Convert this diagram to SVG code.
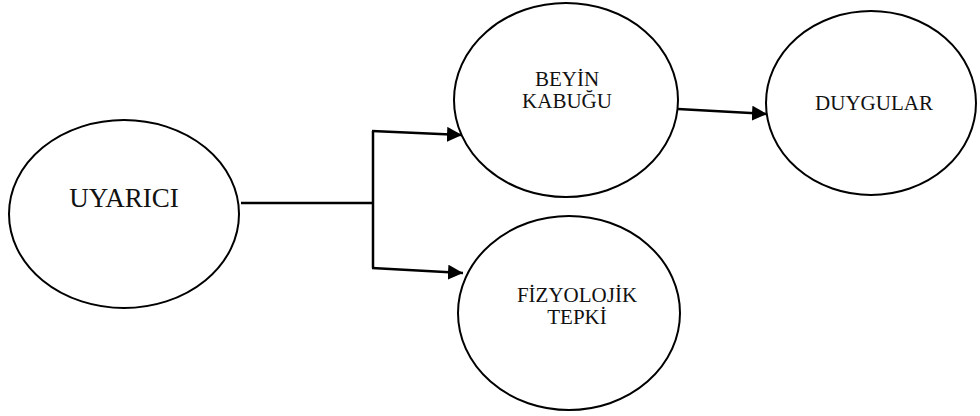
<svg xmlns="http://www.w3.org/2000/svg" width="980" height="416" viewBox="0 0 980 416">
<defs>
<style>
.node ellipse{fill:#fff;stroke:#000;stroke-width:2}
.node text{font-family:"Liberation Serif","Times New Roman",serif;fill:#111;text-anchor:middle}
.conn{fill:none;stroke:#000;stroke-width:2.5}
</style>
<marker id="arr" viewBox="0 0 15 15" refX="15" refY="7.5" markerWidth="15" markerHeight="15" markerUnits="userSpaceOnUse" orient="auto">
<path d="M0,0 L15,7.5 L0,15 Z" fill="#000"/>
</marker>
</defs>
<rect width="980" height="416" fill="#fff"/>
<g id="connectors">
<line class="conn" x1="241" y1="203" x2="373" y2="203" stroke-width="2"/>
<polyline class="conn" points="373,131 373,268"/>
<line class="conn" x1="372" y1="131" x2="462" y2="135" marker-end="url(#arr)"/>
<line class="conn" x1="372" y1="268" x2="463" y2="273" marker-end="url(#arr)"/>
<line class="conn" x1="678" y1="109" x2="767" y2="114" marker-end="url(#arr)"/>
</g>
<g id="uyarici" class="node">
<ellipse cx="124" cy="214" rx="115" ry="94"/>
<text x="124" y="207" font-size="27">UYARICI</text>
</g>
<g id="beyin-kabugu" class="node">
<ellipse cx="566" cy="100" rx="112" ry="97"/>
<text x="567" y="86" font-size="21">BEYİN</text>
<text x="567" y="108" font-size="21">KABUĞU</text>
</g>
<g id="duygular" class="node">
<ellipse cx="871" cy="103" rx="105" ry="92"/>
<text x="874" y="110" font-size="21">DUYGULAR</text>
</g>
<g id="fizyolojik-tepki" class="node">
<ellipse cx="569" cy="313" rx="111" ry="97"/>
<text x="577" y="302" font-size="21">FİZYOLOJİK</text>
<text x="577" y="324" font-size="21">TEPKİ</text>
</g>
</svg>
